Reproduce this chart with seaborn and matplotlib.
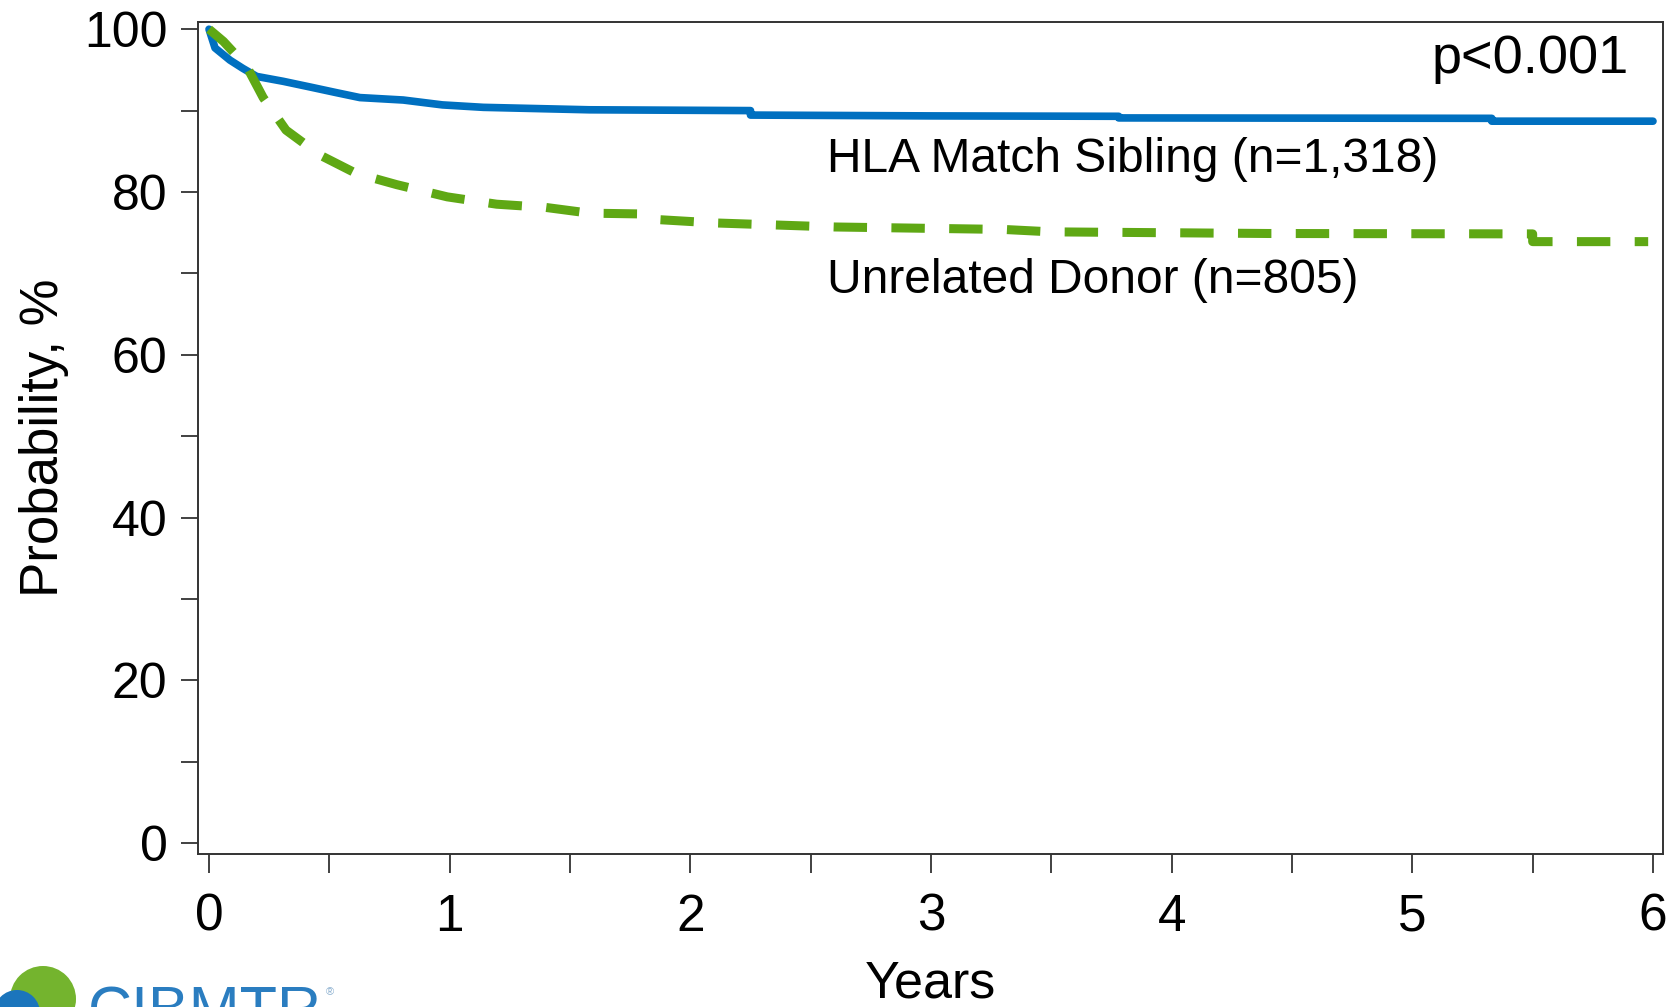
import pandas as pd
import matplotlib.pyplot as plt
import seaborn as sns
from matplotlib.patches import Ellipse

# Kaplan-Meier style curves (years, probability %)
hla_years = [0, 0.025, 0.087, 0.14, 0.198, 0.308, 0.42, 0.53, 0.627, 0.807, 0.97, 1.14,
             1.58, 2.25, 2.25, 3.0, 3.78, 3.78, 5.33, 5.33, 6.0]
hla_prob = [100, 97.7, 96.2, 95.2, 94.2, 93.6, 92.9, 92.2, 91.6, 91.3, 90.7, 90.4,
            90.1, 90.0, 89.45, 89.35, 89.3, 89.1, 89.05, 88.7, 88.7]

urd_years = [0, 0.06, 0.157, 0.225, 0.32, 0.46, 0.61, 0.78, 0.99, 1.195, 1.40, 1.58,
             1.8, 1.87, 2.1, 2.6, 3.3, 3.5, 4.4, 5.5, 5.5, 5.98]
urd_prob = [100, 98.5, 95.4, 91.6, 87.6, 84.55, 82.3, 80.9, 79.4, 78.5, 78.1, 77.4,
            77.3, 76.6, 76.2, 75.7, 75.4, 75.1, 74.9, 74.85, 73.9, 73.9]

labels = ['HLA Match Sibling (n=1,318)', 'Unrelated Donor (n=805)']
p_text = 'p<0.001'
blue = '#0070C0'
green = '#5FA814'

sns.set_style('ticks')
plt.rcParams['font.family'] = ['Liberation Sans', 'DejaVu Sans']
plt.rcParams['text.color'] = 'black'
plt.rcParams['axes.labelcolor'] = 'black'
plt.rcParams['xtick.labelcolor'] = 'black'
plt.rcParams['ytick.labelcolor'] = 'black'

hla = pd.DataFrame({'years': hla_years, 'prob': hla_prob})
urd = pd.DataFrame({'years': urd_years, 'prob': urd_prob})

fig = plt.figure(figsize=(16.71, 10.07), dpi=100)
ax = fig.add_axes([0.1185, 0.1519, 0.8767, 0.8266])

sns.lineplot(data=hla, x='years', y='prob', color=blue, linewidth=5.5,
             estimator=None, sort=False, ax=ax)
sns.lineplot(data=urd, x='years', y='prob', color=green, linewidth=6.5,
             estimator=None, sort=False, ax=ax)
ax.lines[-1].set_dashes((3.7, 2.7))

ax.set_xlim(-0.0457, 6.0415)
ax.set_ylim(-1.35, 100.93)
ax.set_xticks(range(0, 7))
ax.set_xticks([i + 0.5 for i in range(6)], minor=True)
ax.set_yticks(range(0, 101, 20))
ax.set_yticks(range(10, 100, 20), minor=True)

for s in ax.spines.values():
    s.set_linewidth(1.4)
    s.set_color('#333333')
ax.tick_params(axis='y', which='both', length=12, width=1.3, color='#333333',
               labelsize=36, pad=10)
ax.tick_params(axis='x', which='both', length=14, width=1.3, color='#333333',
               labelsize=37, pad=14)

ax.set_xlabel('Years', fontsize=37.5)
ax.set_ylabel('Probability, %', fontsize=38)
ax.xaxis.set_label_coords(0.5, -0.127)
ax.yaxis.set_label_coords(-0.088, 0.5)

ax.text(2.567, 82.4, labels[0], fontsize=34.5, va='baseline', ha='left')
ax.text(2.567, 67.6, labels[1], fontsize=34.5, va='baseline', ha='left')
ax.text(5.9, 94.6, p_text, fontsize=39, va='baseline', ha='right')

# CIBMTR logo, cut off at the bottom edge like the source slide
W, H = 1671, 1007
fig.add_artist(Ellipse((43 / W, 1 - 999 / H), 66 / W, 66 / H,
                       transform=fig.transFigure, color='#74B42E', lw=0))
fig.add_artist(Ellipse((17 / W, 1 - 1013 / H), 46 / W, 46 / H,
                       transform=fig.transFigure, color='#1B75BC', lw=0))
fig.text(88 / W, 1 - 1029 / H, 'CIBMTR', fontsize=44, color='#2A7DC0',
         va='baseline', ha='left')
fig.text(326 / W, 1 - 995 / H, '®', fontsize=8, color='#8AAFCF')

fig.savefig('out.png', dpi=100)
